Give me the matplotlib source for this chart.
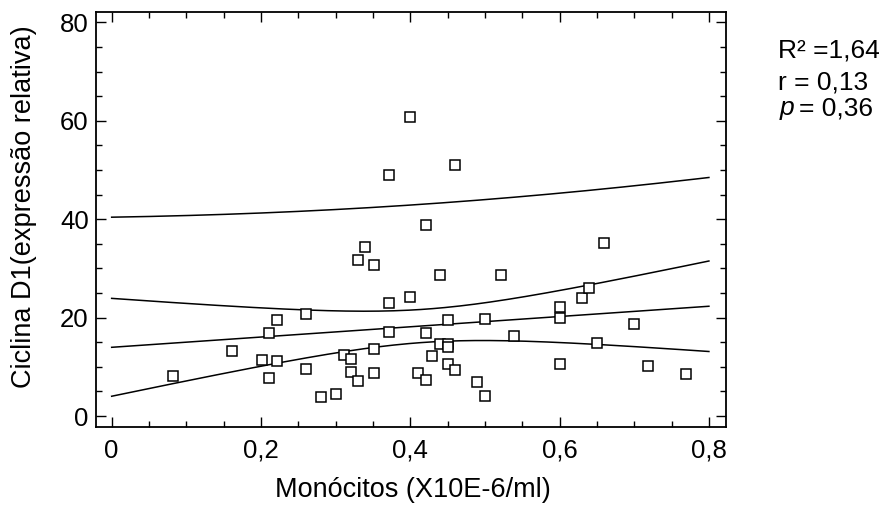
import numpy as np
import matplotlib
matplotlib.use("Agg")
import matplotlib.pyplot as plt
from matplotlib.ticker import MultipleLocator, FuncFormatter

plt.rcParams['font.family'] = ['Liberation Sans', 'DejaVu Sans']

monocitos = [0.082, 0.161, 0.201, 0.211, 0.211, 0.221, 0.221, 0.260, 0.260, 0.280,
             0.300, 0.311, 0.321, 0.321, 0.330, 0.330, 0.340, 0.351, 0.351, 0.351,
             0.371, 0.371, 0.400, 0.411, 0.421, 0.421, 0.429, 0.440, 0.440, 0.450,
             0.450, 0.450, 0.450, 0.460, 0.490, 0.500, 0.500, 0.521, 0.539, 0.600,
             0.600, 0.600, 0.630, 0.640, 0.650, 0.660, 0.700, 0.719, 0.769,
             0.400, 0.371, 0.460, 0.421]
ciclina = [8.2, 13.2, 11.4, 16.9, 7.8, 19.5, 11.1, 20.7, 9.6, 3.8,
           4.4, 12.5, 11.6, 9.0, 7.2, 31.8, 34.4, 30.7, 13.7, 8.7,
           22.9, 17.1, 24.2, 8.7, 16.9, 7.4, 12.2, 28.6, 14.6, 19.5,
           14.6, 14.1, 10.5, 9.3, 6.9, 19.8, 4.1, 28.6, 16.3, 22.1,
           20.0, 10.5, 23.9, 26.1, 14.8, 35.2, 18.7, 10.1, 8.5,
           60.7, 48.9, 51.0, 38.9]
stats_lines = ["R² =1,64", "r = 0,13", "= 0,36"]

x = np.array(monocitos)
y = np.array(ciclina)
n = len(x)
slope, intercept = np.polyfit(x, y, 1)
resid = y - (intercept + slope * x)
s = np.sqrt(np.sum(resid ** 2) / (n - 2))
xm = x.mean()
sxx = np.sum((x - xm) ** 2)
tval = 2.0076  # t(0.975, df=51)
xs = np.linspace(0, 0.8, 200)
fit = intercept + slope * xs
conf = tval * s * np.sqrt(1 / n + (xs - xm) ** 2 / sxx)
pred = tval * s * np.sqrt(1 + 1 / n + (xs - xm) ** 2 / sxx)

fig = plt.figure(figsize=(8.86, 5.07), dpi=100)
ax = fig.add_axes([0.1080, 0.157, 0.7115, 0.820])

for curve in (fit, fit + conf, fit - conf, fit + pred, fit - pred):
    ax.plot(xs, curve, color='black', lw=1.1)
ax.plot(x, y, linestyle='none', marker='s', markersize=6.5, markerfacecolor='white',
        markeredgecolor='black', markeredgewidth=1.1, zorder=3)

ax.set_xlim(-0.0214, 0.823)
ax.set_ylim(-2.3, 82.2)
ax.xaxis.set_major_locator(MultipleLocator(0.2))
ax.xaxis.set_minor_locator(MultipleLocator(0.05))
ax.yaxis.set_major_locator(MultipleLocator(20))
ax.yaxis.set_minor_locator(MultipleLocator(5))
ax.xaxis.set_major_formatter(FuncFormatter(lambda v, p: "0" if abs(v) < 1e-9 else f"{v:.1f}".replace('.', ',')))
ax.tick_params(which='both', direction='in', top=True, right=True, labelsize=18.5, width=1.0)
ax.tick_params(which='major', length=7)
ax.tick_params(axis='x', which='major', pad=8)
ax.tick_params(axis='y', which='major', pad=5)
ax.tick_params(which='minor', length=4)
for sp in ax.spines.values():
    sp.set_linewidth(1.3)

fig.text(0.4655, 0.034, "Monócitos (X10E-6/ml)", fontsize=19.5, ha='center', va='center')
fig.text(0.027, 0.592, "Ciclina D1(expressão relativa)", fontsize=19.5, ha='center', va='center',
         rotation=90)

fig.text(0.878, 0.901, stats_lines[0], fontsize=19, ha='left', va='center')
fig.text(0.878, 0.838, stats_lines[1], fontsize=19, ha='left', va='center')
fig.text(0.880, 0.786, "p", fontsize=19, ha='left', va='center', style='italic')
fig.text(0.9015, 0.786, stats_lines[2], fontsize=19, ha='left', va='center')

fig.savefig("out.png", dpi=100)
